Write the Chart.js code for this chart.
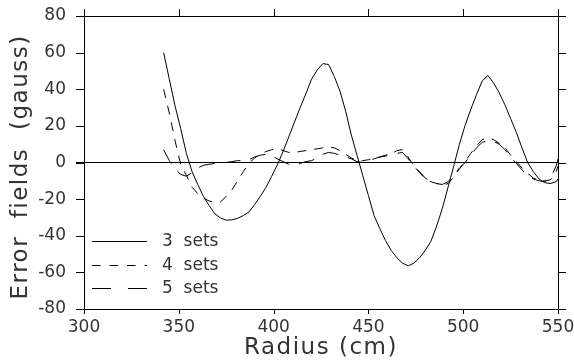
<!DOCTYPE html>
<html>
<head>
<meta charset="utf-8">
<script src="https://cdn.jsdelivr.net/npm/chart.js@4"></script>
<style>
  body { margin: 0; background: #fff; }
</style>
</head>
<body>
<canvas id="myChart" width="574" height="362"></canvas>
<script>
// radius in cm, shared by all three curves
const radius = [342,345,348,351,354,357,360,363,366,369,372,375,378,381,384,387,390,393,396,399,
  402,405,408,411,414,417,420,423,426,429,432,435,438,441,444,447,450,453,456,459,
  462,465,468,471,474,477,480,483,486,489,492,495,498,501,504,507,510,513,516,519,
  522,525,528,531,534,537,540,543,546,549,550];

// error fields (gauss)
const sets3 = [60,45.5,31,18.5,5,-5,-12,-18.5,-23.5,-28,-30.3,-31.5,-31.3,-30.5,-29,-27,-23,-18.5,-13.5,-7.5,
  -1.2,6,14,22,30,37.5,45.5,50.5,54,53.5,47,39,28,15,4,-7,-18,-29,-36,-42.6,
  -48,-52,-55,-56.4,-55,-52,-48,-43,-34.7,-25,-13.5,-2,10,20.3,29,37,44.5,47.5,43.5,38,
  31.5,24,16.5,8,0,-5,-9,-11,-11.5,-10.5,-9];
const sets4 = [40,27,12,-1,-7,-13.5,-17,-19.5,-21,-22,-21.5,-18.5,-15,-10,-5,-0.5,2.5,4.5,6,7,
  7.5,6.5,5.5,5.5,6,6.5,7,7.5,8,8.5,8,6.5,4.5,2.5,1,1,1.5,2.5,3,3.5,
  4.5,6.5,7,3,-2,-5.5,-9,-10.5,-11.5,-12.5,-11.5,-8,-3.5,0.5,5,9,12.5,13.5,12.5,10.5,
  8,4,0.5,-3,-6,-8.5,-9.5,-10,-9.5,-5,-2];
const sets5 = [7,1,-3.5,-6.5,-7.5,-5.5,-3,-1.5,-1,-0.5,-0.5,0,0.5,1,1,1.5,3,4,4.5,3.5,
  2,0.5,-1,-1.5,-0.5,0.5,1,2.5,4.5,5.5,5,4,3,2,0.5,0,1,2,3,4,
  4.5,5,5.5,2,-2.5,-5,-8.5,-10.5,-11.5,-12,-10.5,-7,-3,0,4,8,11,12,11.5,10,
  7,3,-0.5,-4,-7,-9,-10,-10.5,-8.5,-2,2];

const seriesLabels = ['3  sets', '4  sets', '5  sets'];
const xTickValues = [300, 350, 400, 450, 500, 550];
const yTickValues = [-80, -60, -40, -20, 0, 20, 40, 60, 80];

const FONT = "'DejaVu Sans', sans-serif";
const TEXT = '#333';

function pts(ys) {
  return radius.map((r, i) => ({ x: r, y: ys[i] }));
}

// pin every axis box so the plot area lands where the original has it
function pin(size) {
  return s => {
    if (s.isHorizontal()) s.height = size; else s.width = size;
    s.paddingTop = 0; s.paddingBottom = 0; s.paddingLeft = 0; s.paddingRight = 0;
  };
}

// axis titles are drawn a bit spaced out, like the original plotting font
const spacedTitles = {
  id: 'spacedTitles',
  afterLayout(chart) {
    ['x', 'y'].forEach(id => {
      const scale = chart.scales[id];
      if (scale._spaced) return;
      const orig = scale.drawTitle;
      scale.drawTitle = function () {
        this.ctx.letterSpacing = '1.5px';
        orig.call(this);
        this.ctx.letterSpacing = '0px';
      };
      scale._spaced = true;
    });
  }
};

// outward tick marks on all four axes
const tickMarks = {
  id: 'tickMarks',
  afterDraw(chart) {
    const ctx = chart.ctx;
    const sizes = { x: 5, x2: 7, y: 8, y2: 8 };
    ctx.save();
    ctx.strokeStyle = '#000';
    ctx.lineWidth = 1;
    Object.keys(sizes).forEach(id => {
      const scale = chart.scales[id];
      const len = sizes[id];
      scale.ticks.forEach(t => {
        const p = Math.round(scale.getPixelForValue(t.value)) + 0.5;
        ctx.beginPath();
        if (scale.position === 'bottom') { ctx.moveTo(p, scale.top); ctx.lineTo(p, scale.top + len); }
        if (scale.position === 'top') { ctx.moveTo(p, scale.bottom); ctx.lineTo(p, scale.bottom - len); }
        if (scale.position === 'left') { ctx.moveTo(scale.right, p); ctx.lineTo(scale.right - len, p); }
        if (scale.position === 'right') { ctx.moveTo(scale.left, p); ctx.lineTo(scale.left + len, p); }
        ctx.stroke();
      });
    });
    ctx.restore();
  }
};

// legend drawn inside the plot, lower left
const insideLegend = {
  id: 'insideLegend',
  afterDraw(chart) {
    const ctx = chart.ctx;
    const area = chart.chartArea;
    const x0 = area.left + 8;
    const rows = [241.5, 265.5, 288.5];
    ctx.save();
    chart.data.datasets.forEach((ds, i) => {
      const y = rows[i];
      ctx.strokeStyle = '#000';
      ctx.lineWidth = 1;
      ctx.setLineDash(ds.legendDash || []);
      ctx.beginPath();
      ctx.moveTo(x0, y);
      ctx.lineTo(x0 + 55, y);
      ctx.stroke();
      ctx.setLineDash([]);
      ctx.fillStyle = TEXT;
      ctx.font = '17px ' + FONT;
      ctx.textAlign = 'left';
      ctx.textBaseline = 'middle';
      ctx.fillText(ds.label, x0 + 70, y);
    });
    ctx.restore();
  }
};

const ctx = document.getElementById('myChart').getContext('2d');
const myChart = new Chart(ctx, {
  type: 'line',
  data: {
    datasets: [
      { label: seriesLabels[0], data: pts(sets3), borderColor: '#000', borderWidth: 1, borderDash: [], legendDash: [] },
      { label: seriesLabels[1], data: pts(sets4), borderColor: '#000', borderWidth: 1, borderDash: [9, 8], legendDash: [8.5, 9] },
      { label: seriesLabels[2], data: pts(sets5), borderColor: '#000', borderWidth: 1, borderDash: [16, 10], legendDash: [19, 17] }
    ]
  },
  plugins: [spacedTitles, tickMarks, insideLegend],
  options: {
    responsive: false,
    animation: false,
    devicePixelRatio: 1,
    layout: { padding: 0 },
    elements: { point: { radius: 0 }, line: { tension: 0, fill: false } },
    plugins: { legend: { display: false }, tooltip: { enabled: false } },
    scales: {
      x: {
        type: 'linear', position: 'bottom', min: 300, max: 550,
        afterBuildTicks: s => { s.ticks = xTickValues.map(v => ({ value: v })); },
        afterFit: pin(53),
        ticks: { color: TEXT, font: { family: FONT, size: 17 }, padding: 3, maxRotation: 0 },
        grid: { drawOnChartArea: false, tickLength: 5, color: 'rgba(0,0,0,0)' },
        border: { color: '#000', width: 1 },
        title: { display: true, text: 'Radius (cm)', color: TEXT,
          font: { family: FONT, size: 23, lineHeight: 1 }, padding: { top: 0, bottom: 2 } }
      },
      x2: {
        type: 'linear', position: 'top', min: 300, max: 550,
        afterBuildTicks: s => { s.ticks = xTickValues.map(v => ({ value: v })); },
        afterFit: pin(16),
        ticks: { display: false },
        grid: { drawOnChartArea: false, color: 'rgba(0,0,0,0)' },
        border: { color: '#000', width: 1 }
      },
      y: {
        type: 'linear', position: 'left', min: -80, max: 80,
        afterBuildTicks: s => { s.ticks = yTickValues.map(v => ({ value: v })); },
        afterFit: pin(84),
        ticks: { color: TEXT, font: { family: FONT, size: 17 }, padding: 10 },
        grid: {
          drawOnChartArea: true, tickLength: 8,
          color: c => (c.tick && c.tick.value === 0 ? '#000' : 'rgba(0,0,0,0)')
        },
        border: { color: '#000', width: 1 },
        title: { display: true, text: 'Error  fields  (gauss) ', color: TEXT,
          font: { family: FONT, size: 23, lineHeight: 1 }, padding: { top: 10, bottom: 0 } }
      },
      y2: {
        type: 'linear', position: 'right', min: -80, max: 80,
        afterBuildTicks: s => { s.ticks = yTickValues.map(v => ({ value: v })); },
        afterFit: pin(16),
        ticks: { display: false },
        grid: { drawOnChartArea: false, color: 'rgba(0,0,0,0)' },
        border: { color: '#000', width: 1 }
      }
    }
  }
});
</script>
</body>
</html>
